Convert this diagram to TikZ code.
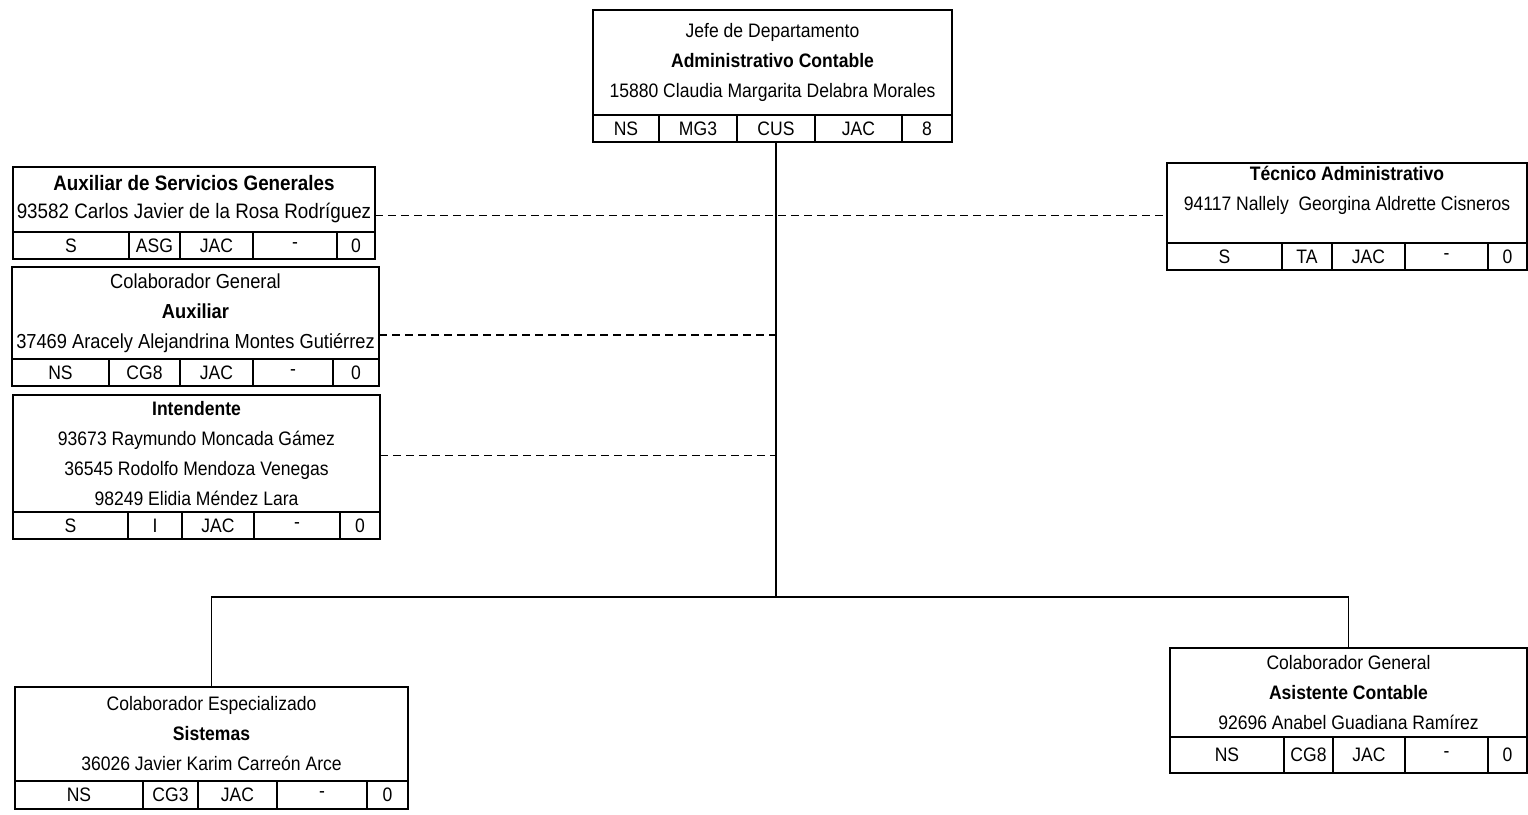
\documentclass[tikz,border=0pt]{standalone}
\usepackage{fontspec}
\setmainfont{Liberation Sans}[FakeStretch=0.9]
\usepackage{tikz}
\usetikzlibrary{positioning}

\begin{document}
\begin{tikzpicture}[
    x=1pt, y=-1pt,
    unit/.style={
        draw,
        line width=2.2pt,
        align=center,
        inner sep=0pt,
        outer sep=0pt,
        anchor=north west,
        font=\fontsize{19.5}{30}\selectfont
    },
    cell/.style={
        draw,
        line width=2.2pt,
        inner sep=0pt,
        outer sep=0pt,
        minimum height=27,
        font=\fontsize{19.5}{20}\selectfont
    },
    link/.style={line width=1.8pt},
    dashlink/.style={line width=1.8pt, dash pattern=on 8pt off 5pt}
]
\useasboundingbox (0,0) rectangle (1528,814);

% jefe
\node[unit, minimum width=359, minimum height=105] (jefe) at (593,10)
{Jefe de Departamento\\\textbf{Administrativo Contable}\\15880 Claudia Margarita Delabra Morales};
\node[cell, minimum width=66, anchor=north west] (jefe1) at (jefe.south west) {NS};
\node[cell, minimum width=78, right=0pt of jefe1] (jefe2) {MG3};
\node[cell, minimum width=78, right=0pt of jefe2] (jefe3) {CUS};
\node[cell, minimum width=87, right=0pt of jefe3] (jefe4) {JAC};
\node[cell, minimum width=50, right=0pt of jefe4] (jefe5) {8};

% left column
\node[unit, minimum width=362, minimum height=65, font=\fontsize{20.9}{28}\selectfont] (asg) at (13,167)
{\textbf{Auxiliar de Servicios Generales}\\93582 Carlos Javier de la Rosa Rodríguez};
\node[cell, minimum width=116, anchor=north west] (asg1) at (asg.south west) {S};
\node[cell, minimum width=51, right=0pt of asg1] (asg2) {ASG};
\node[cell, minimum width=73, right=0pt of asg2] (asg3) {JAC};
\node[cell, minimum width=84, right=0pt of asg3] (asg4) {-};
\node[cell, minimum width=38, right=0pt of asg4] (asg5) {0};

\node[unit, minimum width=367, minimum height=92, font=\fontsize{20.3}{30}\selectfont] (aux) at (12,267)
{Colaborador General\\\textbf{Auxiliar}\\37469 Aracely Alejandrina Montes Gutiérrez};
\node[cell, minimum width=97, anchor=north west] (aux1) at (aux.south west) {NS};
\node[cell, minimum width=71, right=0pt of aux1] (aux2) {CG8};
\node[cell, minimum width=73, right=0pt of aux2] (aux3) {JAC};
\node[cell, minimum width=80, right=0pt of aux3] (aux4) {-};
\node[cell, minimum width=46, right=0pt of aux4] (aux5) {0};

\node[unit, minimum width=367, minimum height=117] (int) at (13,395)
{\textbf{Intendente}\\93673 Raymundo Moncada Gámez\\36545 Rodolfo Mendoza Venegas\\98249 Elidia Méndez Lara};
\node[cell, minimum width=115, anchor=north west] (int1) at (int.south west) {S};
\node[cell, minimum width=54, right=0pt of int1] (int2) {I};
\node[cell, minimum width=72, right=0pt of int2] (int3) {JAC};
\node[cell, minimum width=86, right=0pt of int3] (int4) {-};
\node[cell, minimum width=40, right=0pt of int4] (int5) {0};

% right column
\node[unit, minimum width=360, minimum height=80] (tec) at (1167,163)
{\textbf{Técnico Administrativo}\\94117 Nallely\ \ Georgina Aldrette Cisneros\\\mbox{}};
\node[cell, minimum width=115, anchor=north west] (tec1) at (tec.south west) {S};
\node[cell, minimum width=50, right=0pt of tec1] (tec2) {TA};
\node[cell, minimum width=73, right=0pt of tec2] (tec3) {JAC};
\node[cell, minimum width=83, right=0pt of tec3] (tec4) {-};
\node[cell, minimum width=39, right=0pt of tec4] (tec5) {0};

% bottom row
\node[unit, minimum width=393, minimum height=94] (sis) at (15,687)
{Colaborador Especializado\\\textbf{Sistemas}\\36026 Javier Karim Carreón Arce};
\node[cell, minimum width=128, minimum height=28, anchor=north west] (sis1) at (sis.south west) {NS};
\node[cell, minimum width=55, minimum height=28, right=0pt of sis1] (sis2) {CG3};
\node[cell, minimum width=79, minimum height=28, right=0pt of sis2] (sis3) {JAC};
\node[cell, minimum width=90, minimum height=28, right=0pt of sis3] (sis4) {-};
\node[cell, minimum width=41, minimum height=28, right=0pt of sis4] (sis5) {0};

\node[unit, minimum width=357, minimum height=89] (asis) at (1170,648)
{Colaborador General\\\textbf{Asistente Contable}\\92696 Anabel Guadiana Ramírez};
\node[cell, minimum width=114, minimum height=36, anchor=north west] (asis1) at (asis.south west) {NS};
\node[cell, minimum width=49, minimum height=36, right=0pt of asis1] (asis2) {CG8};
\node[cell, minimum width=72, minimum height=36, right=0pt of asis2] (asis3) {JAC};
\node[cell, minimum width=83, minimum height=36, right=0pt of asis3] (asis4) {-};
\node[cell, minimum width=39, minimum height=36, right=0pt of asis4] (asis5) {0};

% connectors
\coordinate (bar) at (0,597);
\coordinate (hub) at (jefe3.south |- bar);
\draw[link] (jefe3.south) -- (hub);
\draw[link] (sis.north) |- (hub) -| (asis.north);

\coordinate (asgdash) at ([yshift=-16pt]asg.east);
\coordinate (auxdash) at ([yshift=-22pt]aux.east);
\coordinate (intdash) at ([yshift=-2pt]int.east);
\draw[dashlink] (asgdash) -- (asgdash -| tec.west);
\draw[dashlink] (auxdash) -- (auxdash -| hub);
\draw[dashlink] (intdash) -- (intdash -| hub);

\end{tikzpicture}
\end{document}
